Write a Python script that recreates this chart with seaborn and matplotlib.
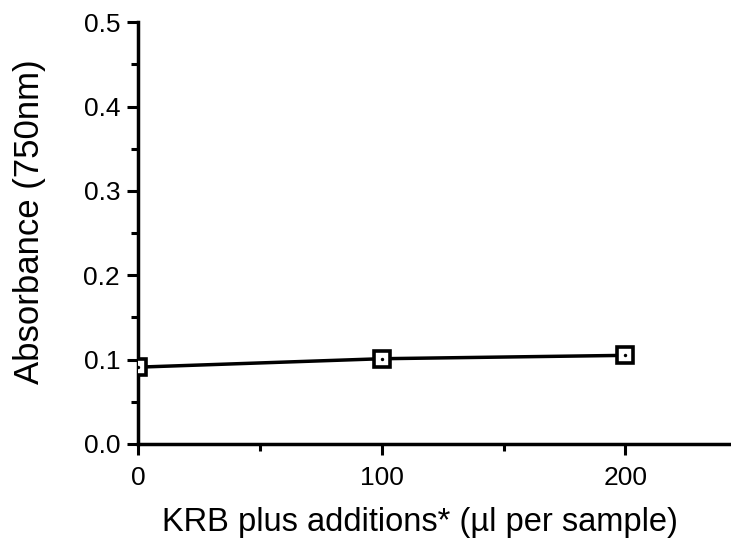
import pandas as pd
import matplotlib.pyplot as plt
import seaborn as sns
from matplotlib.ticker import MultipleLocator

# data
volume_ul = [0, 100, 200]
absorbance = [0.091, 0.101, 0.105]

df = pd.DataFrame({"volume": volume_ul, "absorbance": absorbance})

sns.set_style("ticks")
plt.rcParams["font.family"] = ["Liberation Sans", "DejaVu Sans"]

fig = plt.figure(figsize=(7.31, 5.42), dpi=100)
ax = fig.add_axes([0.189, 0.181, 0.81, 0.778])

# line with open square markers
sns.lineplot(data=df, x="volume", y="absorbance", ax=ax, color="black",
             linewidth=2.5, marker="s", markersize=12, markerfacecolor="white",
             markeredgecolor="black", markeredgewidth=2.6, zorder=3)
# small dot inside each square
sns.scatterplot(data=df, x="volume", y="absorbance", ax=ax, color="black",
                s=6, linewidth=0, zorder=4)

ax.set_xlim(0, 243)
ax.set_ylim(0, 0.5)
ax.xaxis.set_major_locator(MultipleLocator(100))
ax.xaxis.set_minor_locator(MultipleLocator(50))
ax.yaxis.set_major_locator(MultipleLocator(0.1))
ax.yaxis.set_minor_locator(MultipleLocator(0.05))
ax.yaxis.set_major_formatter(plt.FuncFormatter(lambda v, p: f"{v:.1f}"))

for side in ["top", "right"]:
    ax.spines[side].set_visible(False)
for side in ["left", "bottom"]:
    ax.spines[side].set_linewidth(2.5)
    ax.spines[side].set_color("black")

ax.tick_params(which="major", length=8, width=2.2, labelsize=19, colors="black", pad=5)
ax.tick_params(axis="x", which="major", pad=8)
ax.tick_params(which="minor", length=5, width=2.2, colors="black")

ax.set_xlabel("KRB plus additions* (\u00b5l per sample)", fontsize=23.5,
              labelpad=12, x=0.476, color="black")
ax.set_ylabel("Absorbance (750nm)", fontsize=25, labelpad=27, y=0.526,
              color="black")

fig.savefig("out.png", dpi=100)
